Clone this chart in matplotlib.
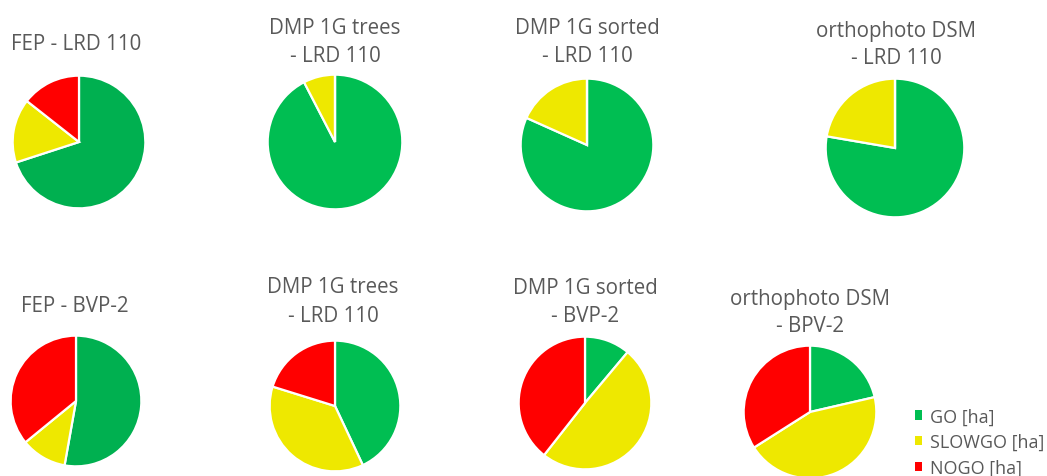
import numpy as np
import matplotlib.pyplot as plt
from matplotlib.patches import Patch

plt.rcParams['font.family'] = ['Open Sans', 'DejaVu Sans']

# share of area per class (percent)
titles = ['FEP - LRD 110', 'DMP 1G trees\n- LRD 110', 'DMP 1G sorted\n- LRD 110', 'orthophoto DSM\n- LRD 110',
          'FEP - BVP-2', 'DMP 1G trees\n- LRD 110', 'DMP 1G sorted\n- BVP-2', 'orthophoto DSM\n- BPV-2']
go_ha = [70.0, 92.4, 81.7, 77.7, 52.8, 43.0, 11.1, 21.4]
slowgo_ha = [15.6, 7.6, 18.3, 22.3, 11.3, 36.8, 49.5, 44.6]
nogo_ha = [14.4, 0.0, 0.0, 0.0, 35.9, 20.2, 39.4, 34.0]
labels = ['GO [ha]', 'SLOWGO [ha]', 'NOGO [ha]']

W, H = 1047, 477
# pie centre (px), radius (px), title centre x, title y of each line
layout = [
    (79, 143, 67, 76, [45]),
    (335, 143, 68, 335, [28, 56]),
    (587, 146, 67, 587, [28, 56]),
    (895, 149, 70, 896, [31, 59]),
    (76, 402, 66, 75, [307]),
    (335, 407, 66, 333, [288, 316]),
    (585, 404, 67, 585, [289, 317]),
    (810, 413, 67, 810, [300, 327]),
]

green_fep = '#00B050'
green = '#00BE52'
yellow = '#EEE800'
red = '#FF0000'
text_col = '#595959'

fig = plt.figure(figsize=(W / 100, H / 100), dpi=100)

for i, (cx, cy, r, tx, ty) in enumerate(layout):
    ax = fig.add_axes([(cx - r) / W, 1 - (cy + r) / H, 2 * r / W, 2 * r / H])
    g = green_fep if titles[i].startswith('FEP') else green
    vals = [go_ha[i], slowgo_ha[i], nogo_ha[i]]
    ax.pie(vals, colors=[g, yellow, red], startangle=90, counterclock=False,
           radius=1, wedgeprops=dict(edgecolor='white', linewidth=1.6))
    ax.set_xlim(-1.01, 1.01)
    ax.set_ylim(-1.01, 1.01)
    ax.set_aspect('equal')
    ax.axis('off')
    for k, line in enumerate(titles[i].split('\n')):
        fig.text(tx / W, 1 - ty[k] / H, line, ha='center', va='center',
                 fontsize=14.8, color=text_col)

handles = [Patch(facecolor=c, edgecolor='none') for c in [green, yellow, red]]
fig.legend(handles, labels, loc='center left', bbox_to_anchor=(915 / W, 1 - 443 / H),
           frameon=False, fontsize=13, handlelength=0.4, handleheight=0.4,
           handletextpad=0.45, labelspacing=0.42, labelcolor=text_col,
           borderpad=0, borderaxespad=0)

fig.savefig('out.png', dpi=100)
